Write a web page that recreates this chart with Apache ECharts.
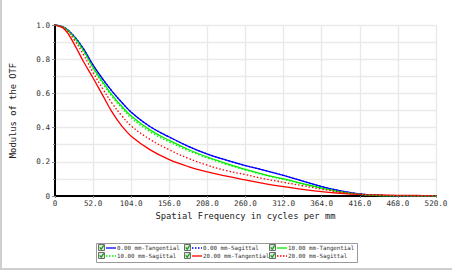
<!DOCTYPE html>
<html>
<head>
<meta charset="utf-8">
<script src="https://cdn.jsdelivr.net/npm/echarts@6/dist/echarts.min.js"></script>
<style>
html,body{margin:0;padding:0;background:#fff;}
#frame{position:absolute;left:0;top:0;width:450px;height:268px;border-left:2px solid #cfcfcf;border-bottom:2px solid #cfcfcf;}
#chart{position:absolute;left:0;top:0;width:452px;height:271px;}
</style>
</head>
<body>
<div id="frame"></div>
<div id="chart"></div>
<script>
// Spatial frequency samples (cycles/mm)
var freq = [0,13,26,39,52,65,78,91,104,130,156,182,208,234,260,286,312,338,364,390,416,442,468,494,520];
// MTF values
var t0  = [1.0,0.985,0.935,0.86,0.765,0.685,0.612,0.548,0.49,0.405,0.345,0.29,0.245,0.21,0.178,0.15,0.12,0.087,0.055,0.03,0.012,0.004,0.001,0,0];
var s0  = [1.0,0.985,0.935,0.86,0.765,0.685,0.612,0.548,0.49,0.405,0.345,0.29,0.245,0.21,0.178,0.15,0.12,0.087,0.055,0.03,0.012,0.004,0.001,0,0];
var t10 = [1.0,0.983,0.93,0.85,0.752,0.668,0.59,0.525,0.468,0.385,0.325,0.272,0.228,0.19,0.155,0.125,0.1,0.073,0.046,0.024,0.01,0.003,0.001,0,0];
var s10 = [1.0,0.983,0.927,0.845,0.745,0.658,0.58,0.515,0.456,0.375,0.316,0.265,0.222,0.185,0.152,0.122,0.097,0.07,0.045,0.024,0.01,0.003,0.001,0,0];
var t20 = [1.0,0.975,0.89,0.785,0.69,0.59,0.49,0.41,0.35,0.27,0.213,0.172,0.141,0.116,0.094,0.073,0.055,0.039,0.026,0.016,0.009,0.006,0.004,0.003,0.002];
var s20 = [1.0,0.98,0.915,0.825,0.722,0.628,0.542,0.47,0.41,0.33,0.27,0.22,0.18,0.148,0.125,0.1,0.08,0.06,0.04,0.022,0.01,0.004,0.001,0,0];
var seriesNames = ["0.00 mm-Tangential","0.00 mm-Sagittal","10.00 mm-Tangential","10.00 mm-Sagittal","20.00 mm-Tangential","20.00 mm-Sagittal"];
var seriesData = [t0, s0, t10, s10, t20, s20];
var seriesColors = ["#0000ff","#0000ff","#00ee00","#00ee00","#ff0000","#ff0000"];
var seriesDashed = [false,true,false,true,false,true];
var xTitle = "Spatial Frequency in cycles per mm";
var yTitle = "Modulus of the OTF";

var FONT = "DejaVu Sans Mono";
var chart = echarts.init(document.getElementById('chart'), null, {renderer:'svg'});

var series = seriesData.map(function(d, i){
  return {
    name: seriesNames[i], type:'line', showSymbol:false, smooth:0.4,
    data: d.map(function(v, j){ return [freq[j], v]; }),
    lineStyle:{color:seriesColors[i], width:1.3, type: seriesDashed[i] ? [1.5,2] : 'solid'},
    itemStyle:{color:seriesColors[i]},
    z: seriesDashed[i] ? 3 : 2
  };
});

// legend built from graphic elements
var graphics = [{type:'rect', shape:{x:96.5,y:243.5,width:261,height:19}, style:{fill:'#fff', stroke:'#9a9a9a', lineWidth:1}}];
var colX = [98, 184, 269];
var rowY = [248, 256];
seriesNames.forEach(function(n, i){
  var c = i % 3, r = Math.floor(i / 3);
  var x = colX[c], y = rowY[r];
  graphics.push({type:'rect', shape:{x:x+0.5,y:y-3.5,width:6,height:6}, style:{fill:'#d6ead6', stroke:'#4a4a4a', lineWidth:0.8}});
  graphics.push({type:'polyline', shape:{points:[[x+1.7,y-0.6],[x+3.2,y+1.2],[x+5.8,y-2.6]]}, style:{stroke:'#1a9a1a', lineWidth:1.2, fill:null}});
  graphics.push({type:'line', shape:{x1:x+8,y1:y,x2:x+18,y2:y}, style:{stroke:seriesColors[i], lineWidth:1.3, lineDash: seriesDashed[i] ? [1.5,1.5] : null}});
  graphics.push({type:'text', x:x+19, y:y, style:{text:n, font:'5.8px "'+FONT+'"', fill:'#333', verticalAlign:'middle', align:'left'}});
});

chart.setOption({
  animation:false,
  backgroundColor:'transparent',
  grid:{left:55, right:16, top:25, bottom:75},
  xAxis:{
    type:'value', min:0, max:520, interval:52,
    name:xTitle, nameLocation:'middle', nameGap:15,
    nameTextStyle:{fontFamily:FONT, fontSize:8.8, color:'#222'},
    axisLine:{show:true, onZero:false, lineStyle:{color:'#000', width:2}},
    axisTick:{show:true, length:2, lineStyle:{color:'#888'}},
    axisLabel:{fontFamily:FONT, fontSize:7.6, color:'#333', margin:3,
      formatter:function(v){ return v===0 ? '0' : v.toFixed(1); }},
    splitLine:{show:true, lineStyle:{color:'#e9e9e9', width:1.4}}
  },
  yAxis:{
    type:'value', min:0, max:1, interval:0.2,
    name:yTitle, nameLocation:'middle', nameGap:38,
    nameTextStyle:{fontFamily:FONT, fontSize:8.8, color:'#222'},
    axisLine:{show:true, onZero:false, lineStyle:{color:'#000', width:2}},
    axisTick:{show:true, length:3, lineStyle:{color:'#888'}},
    minorTick:{show:true, splitNumber:2, length:2, lineStyle:{color:'#888'}},
    axisLabel:{fontFamily:FONT, fontSize:7.6, color:'#333', margin:5,
      formatter:function(v){ return v===0 ? '0' : v.toFixed(1); }},
    splitLine:{show:true, lineStyle:{color:'#e9e9e9', width:1.4}},
    minorSplitLine:{show:true, lineStyle:{color:'#e9e9e9', width:1.4}}
  },
  series: series,
  graphic: graphics
});
</script>
</body>
</html>
